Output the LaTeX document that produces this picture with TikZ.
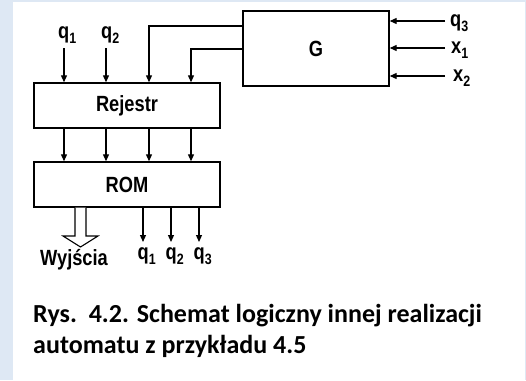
\documentclass[tikz,border=0pt]{standalone}
\usepackage{fontspec}
\setmainfont{Liberation Sans}[FakeStretch=0.83]
\newfontfamily\capfont{Carlito}
\usetikzlibrary{arrows.meta,positioning,calc}
\definecolor{pagebg}{HTML}{DEE8F4}
% lowered index for signal names
\newcommand\dol[1]{\raisebox{-5pt}{\fontsize{15}{15}\selectfont #1}}
\tikzset{
  blok/.style={draw, line width=1.4pt, font=\bfseries\fontsize{22}{24}\selectfont,
    inner sep=0pt},
  sig/.style={-{Triangle[length=7pt,width=6pt]}, line width=1.2pt},
  lbl/.style={font=\bfseries\fontsize{22}{24}\selectfont, inner sep=0pt, anchor=base west},
  wide/.style={draw, line width=1.1pt, fill=white, line join=miter},
  captxt/.style={font=\capfont\bfseries\fontsize{26}{31}\selectfont, inner sep=0pt,
    anchor=base west}
}

\begin{document}
\begin{tikzpicture}[x=1pt,y=-1pt]
  % page background
  \fill[pagebg] (0,0) rectangle (526,380);
  \fill[white] (13,2) rectangle (525,380);
  \useasboundingbox (0,0) rectangle (526,380);

  % blocks
  \node[blok, minimum width=186pt, minimum height=45pt] (rej) at (127,105.5) {Rejestr};
  \node[blok, minimum width=186pt, minimum height=45pt] (rom) at (127,184.5) {ROM};
  \node[blok, minimum width=146pt, minimum height=75pt] (g) at (316,48.5) {G};

  % register inputs q1, q2
  \node[lbl] (q1in) at (58,38) {q\dol{1}};
  \node[lbl] (q2in) at (101,38) {q\dol{2}};
  \coordinate (q1s) at (64,48);
  \coordinate (q2s) at (106,48);
  \draw[sig] (q1s) -- (q1s |- rej.north);
  \draw[sig] (q2s) -- (q2s |- rej.north);

  % feedback from G
  \coordinate (ga) at (g.west |- 0,26);
  \coordinate (gb) at (g.west |- 0,49);
  \draw[sig] (ga) -| (149,0 |- rej.north);
  \draw[sig] (gb) -| (191,0 |- rej.north);

  % G inputs
  \node[lbl] (q3g) at (450,26) {q\dol{3}};
  \node[lbl] (x1g) at (451,53) {x\dol{1}};
  \node[lbl] (x2g) at (453,81) {x\dol{2}};
  \foreach \y in {21,48,76}
    \draw[sig] (445,\y) -- (g.east |- 0,\y);

  % register to ROM
  \foreach \x in {64,106,149,191}
    \draw[sig] (\x,0 |- rej.south) -- (\x,0 |- rom.north);

  % ROM outputs
  \foreach \x/\i in {143/1,171/2,199/3}{
    \draw[sig] (\x,0 |- rom.south) -- (\x,242);
    \node[lbl] (q\i out) at (\x-5.5,259) {q\dol{\i}};
  }

  % wide output arrow
  \draw[wide] (75,0 |- rom.south) -- (75,236) -- (63,236) -- (80.5,247)
    -- (98,236) -- (86,236) -- (86,0 |- rom.south);
  \node[lbl] (wyj) at (40,265) {Wyjścia};

  % caption
  \node[captxt] (cap1) at (33,322) {Rys.\ \ 4.2. Schemat logiczny innej realizacji};
  \node[captxt] (cap2) at (33,353) {automatu z przykładu 4.5};
\end{tikzpicture}
\end{document}
